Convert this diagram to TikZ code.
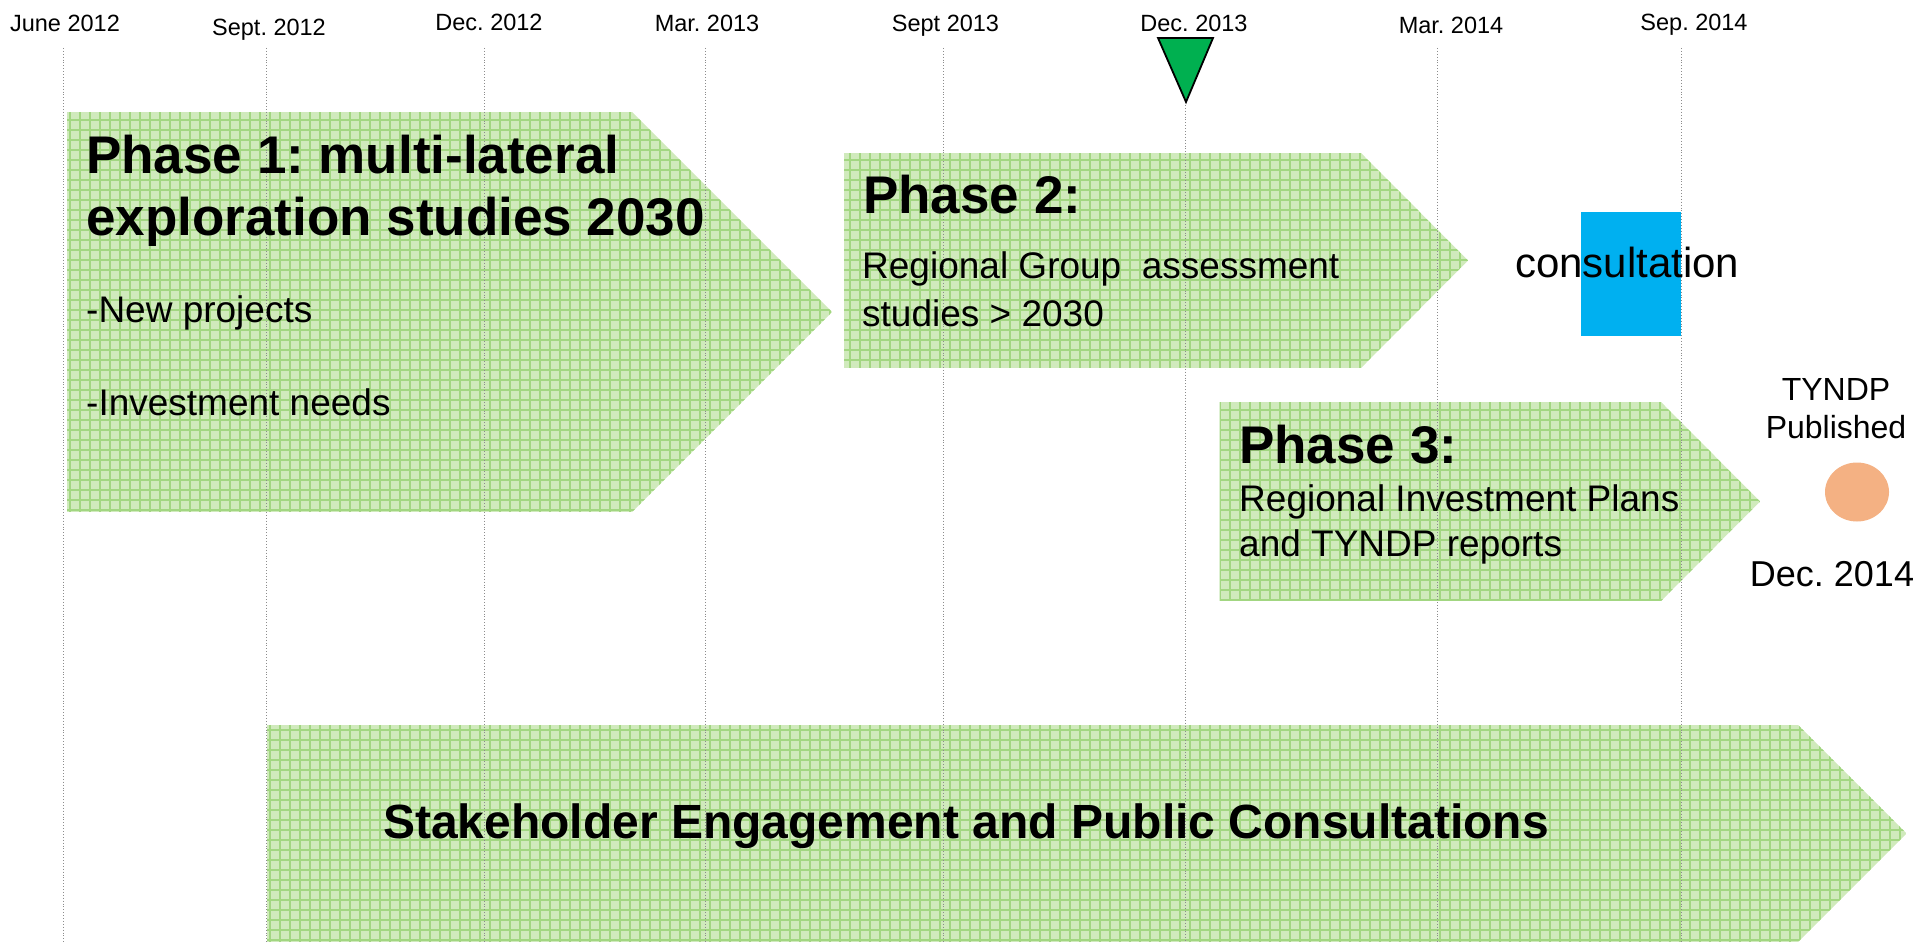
\documentclass[tikz,border=0pt]{standalone}
\usepackage{fontspec}
\setmainfont{Liberation Sans}
\frenchspacing
\definecolor{phasefill}{HTML}{D0EABC}
\definecolor{phasegrid}{HTML}{A2D681}
\definecolor{markgreen}{HTML}{00B050}
\definecolor{consblue}{HTML}{00B0F0}
\definecolor{pubdot}{HTML}{F4B183}

\begin{document}
\begin{tikzpicture}[x=1pt,y=-1pt,
    datelabel/.style={font=\fontsize{23.5}{28}\selectfont,inner sep=0pt,anchor=base},
    phasetitle/.style={font=\bfseries\fontsize{53}{62}\selectfont,inner sep=0pt,anchor=base west},
    phasetext/.style={font=\fontsize{37}{44}\selectfont,inner sep=0pt,anchor=base west},
    monthline/.style={black!45,dotted,line width=0.9pt}
]
    \useasboundingbox (0,0) rectangle (1918,942);
    % arrows: left/top/shoulder/tip/bottom
    \foreach \l/\t/\s/\p/\b in {67/112/632/832/512, 844/153/1361/1468/368,
        1219.5/402/1661/1760/601, 266.7/725/1798/1906.5/942}{
        \begin{scope}
            \clip (\l,\t)--(\s,\t)--(\p,{(\t+\b)/2})--(\s,\b)--(\l,\b)--cycle;
            \fill[phasefill] (\l,\t) rectangle (\p,\b);
            \draw[phasegrid,line width=1.2pt,step=10pt] (\l,\b) grid (\p,\t);
        \end{scope}
    }
    \foreach \x in {63.5,266.7,484,705,943.5,1437,1681}
        \draw[monthline] (\x,48)--(\x,942);
    \draw[monthline] (1185.5,102)--(1185.5,942);

    \node[datelabel] (jun12) at (65,31.7)   {June 2012};
    \node[datelabel] (sep12) at (269,35.4)  {Sept. 2012};
    \node[datelabel] (dec12) at (489,30.5)  {Dec. 2012};
    \node[datelabel] (mar13) at (707,32)    {Mar. 2013};
    \node[datelabel] (sep13) at (945.5,32)  {Sept 2013};
    \node[datelabel] (dec13) at (1194,31.7) {Dec. 2013};
    \node[datelabel] (mar14) at (1451,34)   {Mar. 2014};
    \node[datelabel] (sep14) at (1694,30.5) {Sep. 2014};
    \draw[fill=markgreen,line width=1.8pt] (1158,38)--(1213,38)--(1186,102)--cycle;

    \node[phasetitle] (ph1a) at (86,173) {Phase 1: multi-lateral};
    \node[phasetitle] (ph1b) at (86,235) {exploration studies 2030};
    \node[phasetext]  (ph1c) at (86,322.7) {-New projects};
    \node[phasetext]  (ph1d) at (86,415) {-Investment needs};

    \node[phasetitle] (ph2a) at (863,213.3) {Phase 2:};
    \node[phasetext]  (ph2b) at (862,278.3) {Regional Group~ assessment};
    \node[phasetext]  (ph2c) at (862,326.7) {studies > 2030};

    \node[phasetitle] (ph3a) at (1239,463.3) {Phase 3:};
    \node[phasetext]  (ph3b) at (1239,511.7) {Regional Investment Plans};
    \node[phasetext]  (ph3c) at (1239,556.7) {and TYNDP reports};

    \fill[consblue] (1581,212) rectangle (1681,336);
    \node[anchor=base west,inner sep=0pt,font=\fontsize{42}{50}\selectfont] (consult) at (1515,277) {consultation};

    \node[anchor=base,inner sep=0pt,font=\fontsize{32}{38}\selectfont] (tyndp) at (1836,400) {TYNDP};
    \node[anchor=base,inner sep=0pt,font=\fontsize{32}{38}\selectfont] (publ) at (1836,438) {Published};
    \fill[pubdot] (1857,492) ellipse [x radius=32pt,y radius=29.5pt];
    \node[anchor=base,inner sep=0pt,font=\fontsize{36}{43}\selectfont] (dec14) at (1832,586) {Dec. 2014};

    \node[phasetitle,font=\bfseries\fontsize{48}{56}\selectfont] (stake) at (383,838)
        {Stakeholder Engagement and Public Consultations};
\end{tikzpicture}
\end{document}
